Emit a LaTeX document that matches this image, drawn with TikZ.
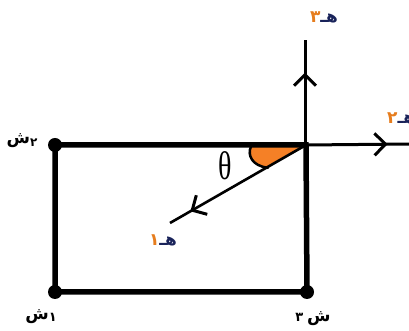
\documentclass[tikz,border=0pt]{standalone}
\usepackage{fontspec}
\setmainfont{Liberation Serif}
\newfontfamily\arabicfont[Script=Arabic]{DejaVu Sans}
\usetikzlibrary{arrows.meta,decorations.markings}
\definecolor{fillorange}{RGB}{245,128,38}
\definecolor{labnavy}{RGB}{25,35,90}
\definecolor{digorange}{RGB}{230,125,30}
\tikzset{
  frame/.style={line width=5.5pt,line cap=round},
  axisline/.style={line width=3pt},
  dotmark/.style={circle,fill=black,inner sep=0pt,minimum size=14pt},
  barb/.style={decoration={markings,mark=at position #1 with {\arrow{Straight Barb[length=11pt,width=22pt,line width=3pt]}}},postaction={decorate}},
  elab/.style={inner sep=0pt,font=\arabicfont\bfseries\fontsize{17}{17}\selectfont},
  slab/.style={inner sep=0pt,font=\arabicfont\bfseries\fontsize{17}{17}\selectfont},
}
\begin{document}
\begin{tikzpicture}[x=1pt,y=1pt]
\useasboundingbox (0,0) rectangle (409,331);
% corners
\coordinate (C) at (306,186);
\node[dotmark] (TL) at (55,186) {};
\node[dotmark] (BL) at (55,39) {};
\node[dotmark] (BR) at (307,39) {};
\coordinate (Vtop) at (305,291);
\coordinate (Hend) at (412,187);
\coordinate (D) at (170,108);
% angle fill
\fill[fillorange] (C) -- (251,184) .. controls (247,176) and (252,165) .. (268,163.2) -- cycle;
\draw[line width=2.5pt,line cap=round] (251,184.5) .. controls (247,176) and (252,165) .. (268,163.2);
% rectangle
\draw[frame] (TL.center) -- (C) -- (BR.center) -- (BL.center) -- cycle;
% axes
\draw[axisline,barb=0.69] (305,186) -- (Vtop);
\draw[axisline,barb=0.77] (C) -- (Hend);
\draw[line width=2.6pt,barb=0.85] (C) -- (D);
% labels
\node[elab] (e3) at (324,314) {\mbox{\color{digorange}٣}\mbox{\color{labnavy}هـ}};
\node[elab,anchor=west] (e2) at (387,213) {\mbox{\color{digorange}٢}\mbox{\color{labnavy}هـ}};
\node[elab] (e1) at (163,91) {\mbox{\color{digorange}١}\mbox{\color{labnavy}هـ}};
\node[slab] (s2) at (22,190) {\mbox{ش}\mbox{\raisebox{-3pt}{\fontsize{12}{12}\selectfont ٢}}};
\node[slab] (s1) at (41,14) {\mbox{ش}\mbox{\raisebox{-2pt}{\fontsize{13}{13}\selectfont ١}}};
\node[slab] (s3) at (313,12) {\mbox{\fontsize{13}{13}\selectfont ٣}\hspace{4pt}\mbox{ش}};
\node[inner sep=0pt,font=\fontsize{40}{40}\selectfont,xscale=0.7] (th) at (225,165) {θ};
\end{tikzpicture}
\end{document}
